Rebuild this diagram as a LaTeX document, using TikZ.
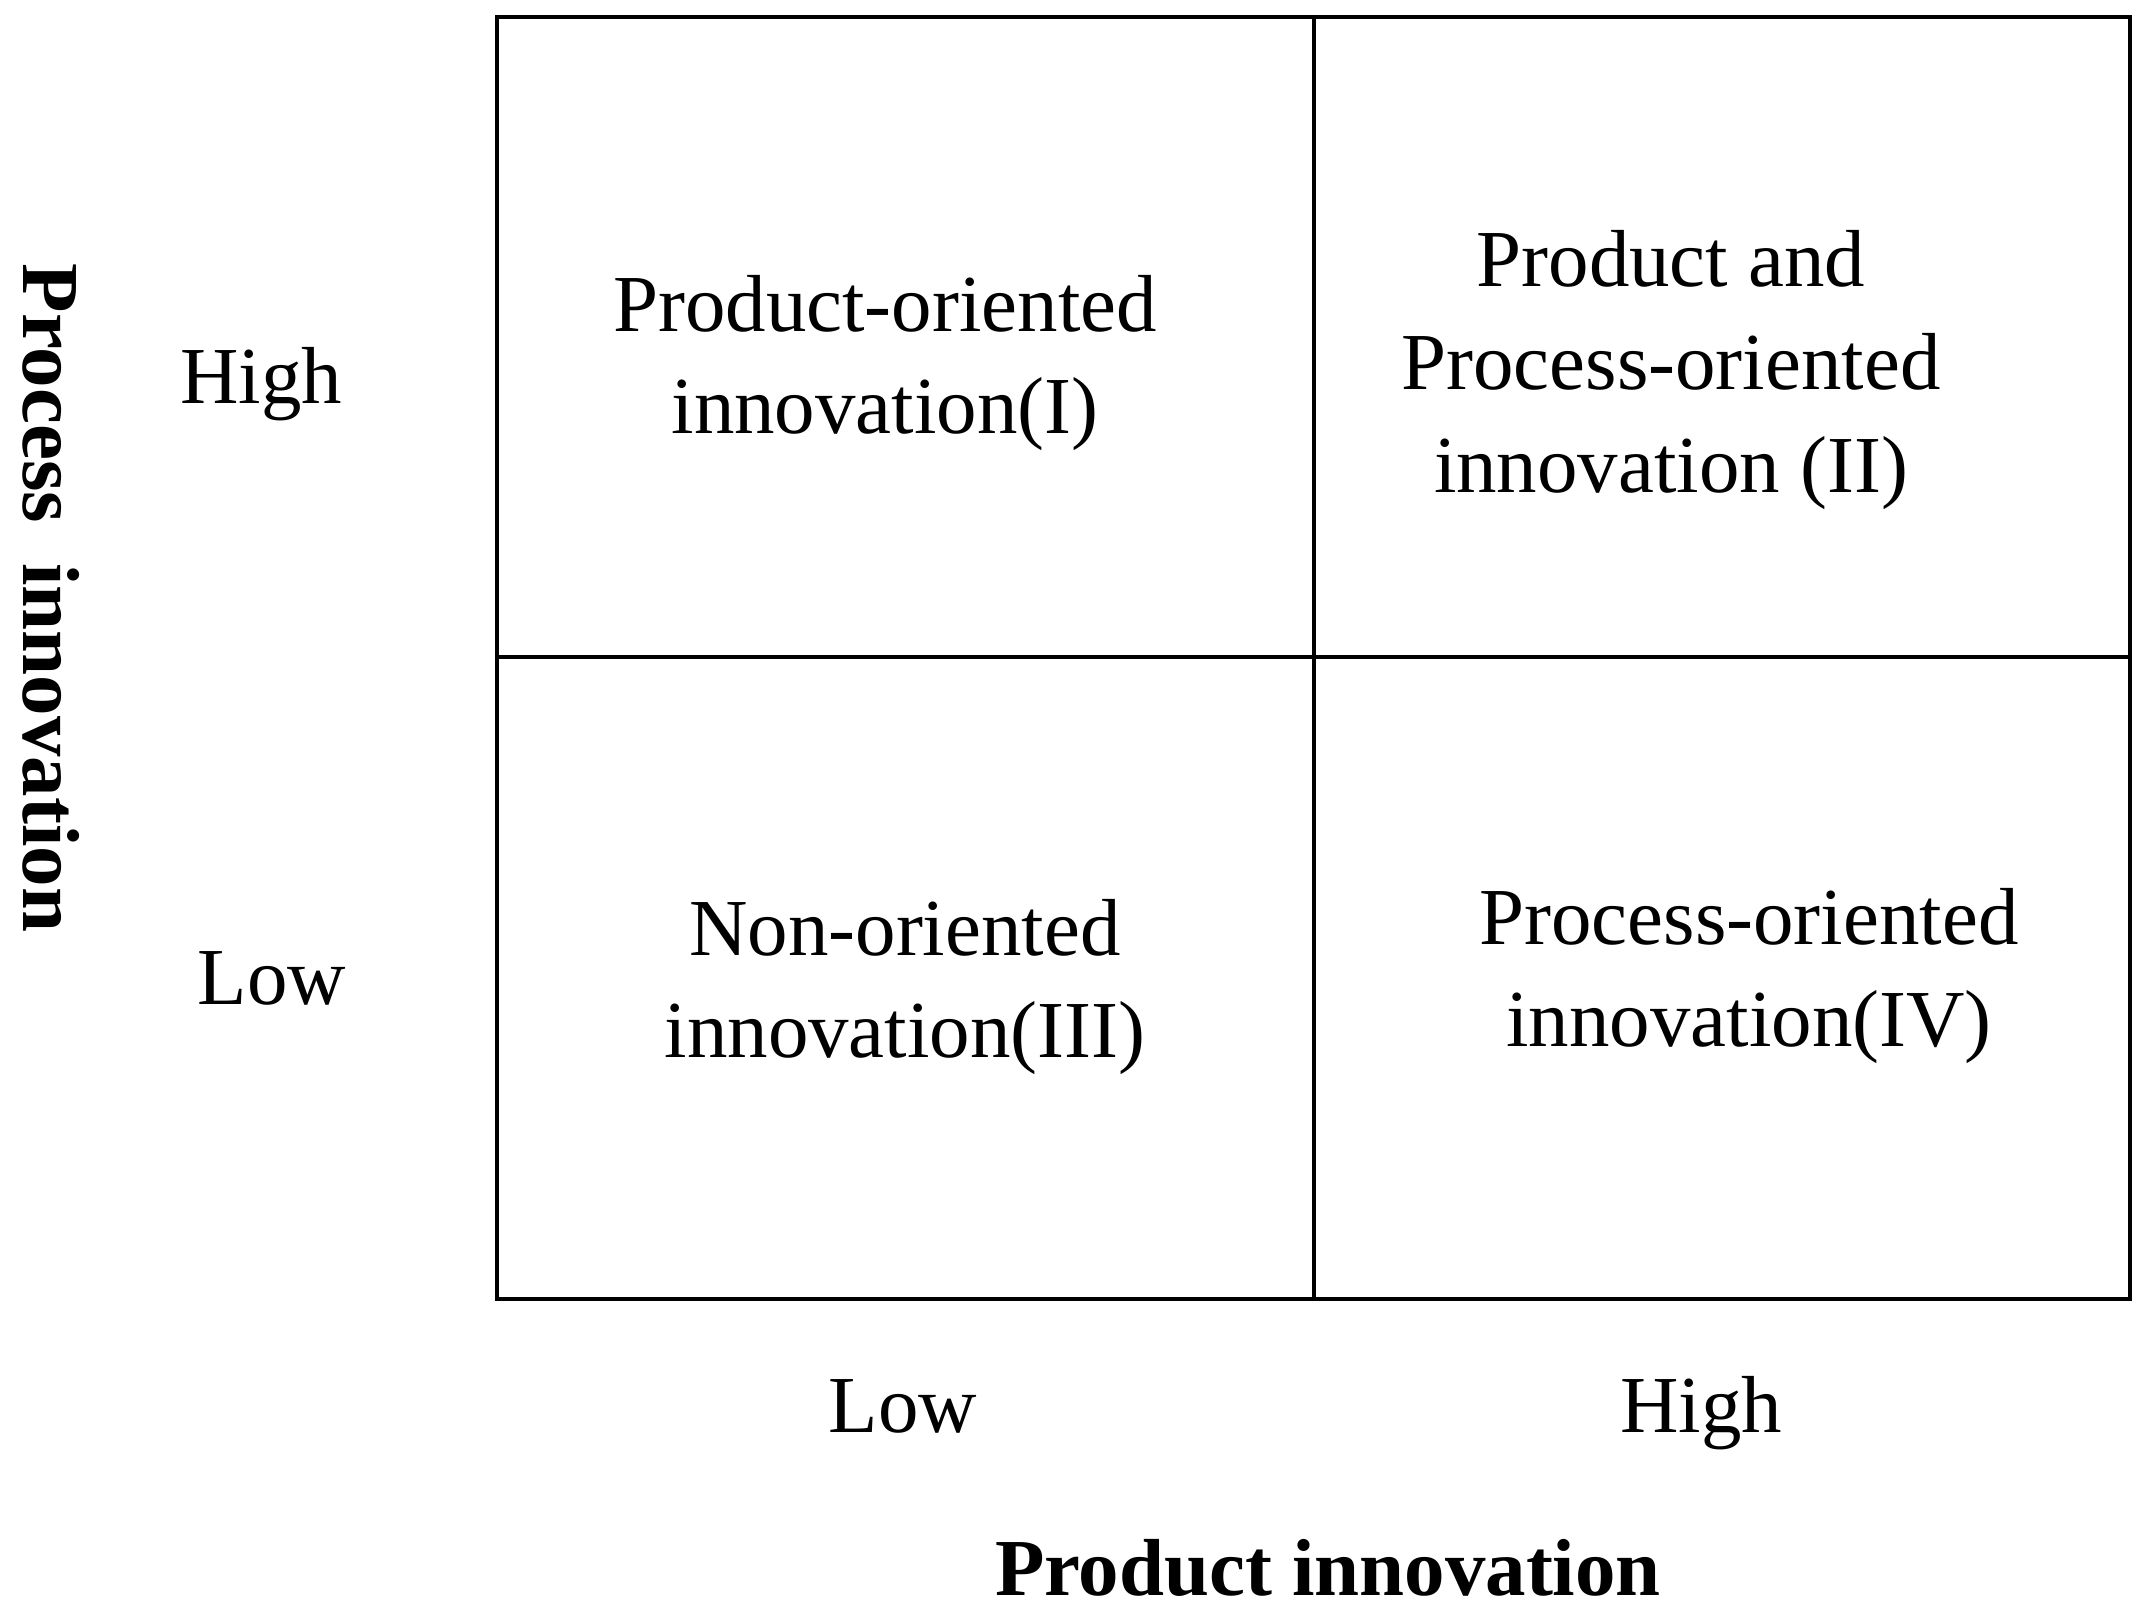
\documentclass[tikz,border=0pt]{standalone}
\usepackage{fontspec}
\setmainfont{Liberation Serif}
\begin{document}
\begin{tikzpicture}[x=0.01cm,y=-0.01cm,
  grid/.style={line width=1.4pt,black},
  lbl/.style={font=\fontsize{23}{29.2}\selectfont,align=center,inner sep=0pt},
  axis/.style={font=\fontsize{23}{29.2}\selectfont\bfseries,inner sep=0pt}]
\useasboundingbox (0,0) rectangle (2151,1614);
\coordinate (tl) at (497,17);
\coordinate (br) at (2130,1299);
\coordinate (tm) at (1314,17);
\coordinate (bm) at (1314,1299);
\coordinate (ml) at (497,657);
\coordinate (mr) at (2130,657);
\draw[grid] (tl) rectangle (br);
\draw[grid] (tm) -- (bm);
\draw[grid] (ml) -- (mr);
\node[lbl] (q1) at (885,363) {Product-oriented\\innovation(I)};
\node[lbl] (q2) at (1671,370) {Product and\\Process-oriented\\innovation (II)};
\node[lbl] (q3) at (905,987) {Non-oriented\\innovation(III)};
\node[lbl] (q4) at (1749,976) {Process-oriented\\innovation(IV)};
\node[lbl] (yh) at (261,384) {High};
\node[lbl] (yl) at (272,978) {Low};
\node[lbl] (xl) at (903,1406) {Low};
\node[lbl] (xh) at (1701,1413) {High};
\node[axis] (xa) at (1328,1568) {Product innovation};
\node[axis,rotate=-90] (ya) at (51,598) {Process~~innovation};
\end{tikzpicture}
\end{document}
